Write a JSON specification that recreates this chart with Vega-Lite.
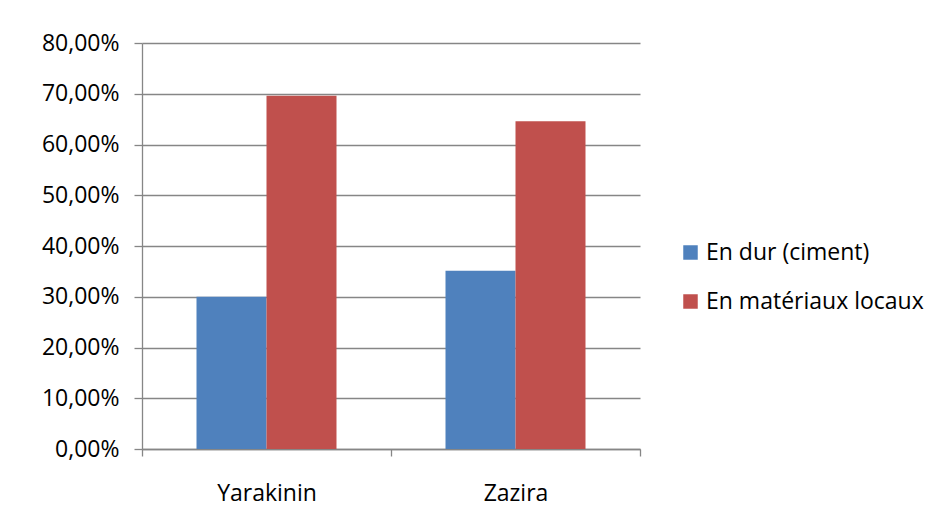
{
  "$schema": "https://vega.github.io/schema/vega-lite/v6.json",
  "autosize": {"type": "none"},
  "width": 498,
  "height": 406,
  "padding": {"left": 142, "top": 43, "right": 296, "bottom": 80},
  "background": "white",
  "data": {
    "values": [
      {"site": "Yarakinin", "type": "En dur (ciment)", "value": 0.300},
      {"site": "Yarakinin", "type": "En matériaux locaux", "value": 0.696},
      {"site": "Zazira", "type": "En dur (ciment)", "value": 0.351},
      {"site": "Zazira", "type": "En matériaux locaux", "value": 0.646}
    ]
  },
  "mark": {"type": "bar"},
  "encoding": {
    "x": {
      "field": "site",
      "type": "nominal",
      "sort": ["Yarakinin", "Zazira"],
      "scale": {"paddingInner": 0, "paddingOuter": 0},
      "axis": {
        "title": null,
        "labelAngle": 0,
        "tickBand": "extent",
        "domainColor": "#868686",
        "domainWidth": 1.3,
        "tickColor": "#868686",
        "tickWidth": 1.3,
        "tickSize": 7,
        "labelPadding": 26,
        "labelFont": "Open Sans",
        "labelFontSize": 23,
        "labelColor": "#000000",
        "grid": false
      }
    },
    "xOffset": {
      "field": "type",
      "type": "nominal",
      "sort": ["En dur (ciment)", "En matériaux locaux"],
      "scale": {"paddingInner": 0, "paddingOuter": 0.7786}
    },
    "y": {
      "field": "value",
      "type": "quantitative",
      "scale": {"domain": [0, 0.8], "nice": false},
      "axis": {
        "title": null,
        "values": [0, 0.1, 0.2, 0.3, 0.4, 0.5, 0.6, 0.7, 0.8],
        "labelExpr": "replace(format(datum.value, '.2%'), '.', ',')",
        "domainColor": "#868686",
        "domainWidth": 1.3,
        "tickColor": "#868686",
        "tickWidth": 1.3,
        "tickSize": 8,
        "labelPadding": 15,
        "labelFont": "Open Sans",
        "labelFontSize": 23,
        "labelColor": "#000000",
        "grid": true,
        "gridColor": "#868686",
        "gridWidth": 1.3
      }
    },
    "color": {
      "field": "type",
      "type": "nominal",
      "sort": ["En dur (ciment)", "En matériaux locaux"],
      "scale": {"range": ["#4F81BD", "#C0504D"]},
      "legend": {
        "title": null,
        "orient": "none",
        "legendX": 537,
        "legendY": 198,
        "symbolType": "square",
        "symbolSize": 210,
        "symbolStrokeWidth": 0,
        "symbolOpacity": 1,
        "labelFont": "Open Sans",
        "labelFontSize": 23,
        "labelColor": "#000000",
        "labelOffset": 4,
        "rowPadding": 25,
        "labelLimit": 400
      }
    }
  },
  "config": {
    "view": {"stroke": null},
    "bar": {"stroke": null}
  }
}
